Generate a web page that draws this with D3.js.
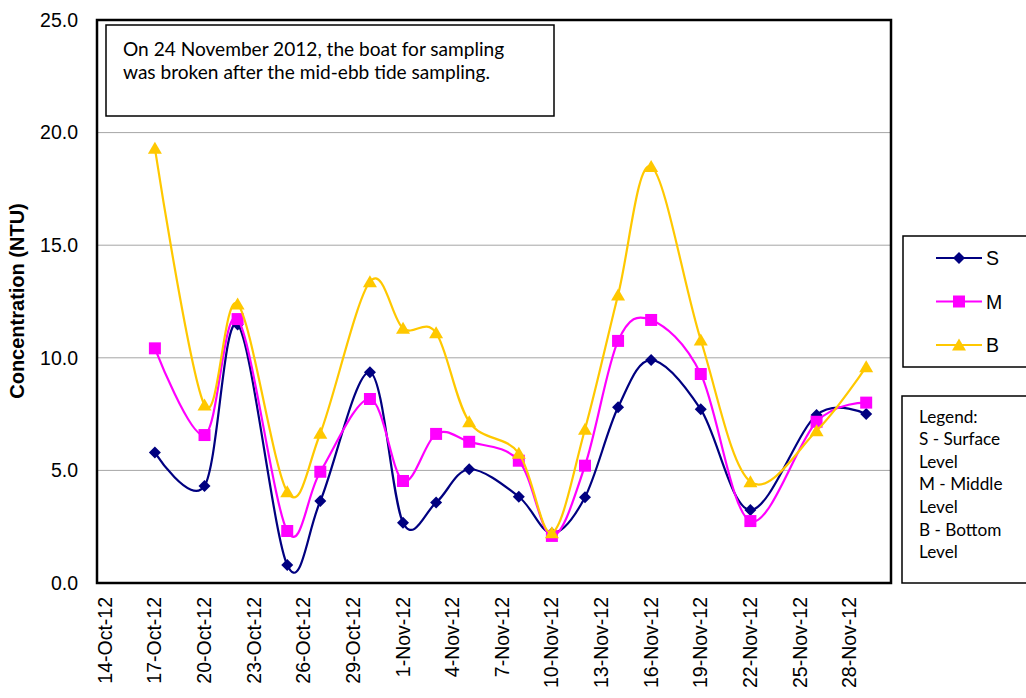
<!DOCTYPE html>
<html>
<head>
<meta charset="utf-8">
<script src="https://cdn.jsdelivr.net/npm/d3@7"></script>
<style>
  html, body { margin: 0; padding: 0; background: #fff; }
  svg { display: block; }
</style>
</head>
<body>
<svg id="chart" width="1026" height="698"></svg>
<script>
// ---- data ----
const sampleDates = ["2012-10-17","2012-10-20","2012-10-22","2012-10-25","2012-10-27","2012-10-30",
  "2012-11-01","2012-11-03","2012-11-05","2012-11-08","2012-11-10","2012-11-12","2012-11-14",
  "2012-11-16","2012-11-19","2012-11-22","2012-11-26","2012-11-29"];
const surfaceValues = [5.79, 4.31, 11.48, 0.80, 3.64, 9.36, 2.68, 3.57, 5.05, 3.83, 2.21, 3.81, 7.80, 9.90, 7.71, 3.24, 7.46, 7.50];
const middleValues  = [10.42, 6.57, 11.72, 2.31, 4.94, 8.17, 4.53, 6.62, 6.27, 5.43, 2.09, 5.21, 10.75, 11.68, 9.28, 2.75, 7.16, 8.01];
const bottomValues  = [19.30, 7.90, 12.39, 4.05, 6.65, 13.38, 11.31, 11.11, 7.16, 5.76, 2.23, 6.83, 12.79, 18.49, 10.79, 4.50, 6.76, 9.60];
const seriesNames = ["S", "M", "B"];
const seriesColors = ["#000080", "#FF00FF", "#FFC800"];
const xTickDates = ["2012-10-14","2012-10-17","2012-10-20","2012-10-23","2012-10-26","2012-10-29",
  "2012-11-01","2012-11-04","2012-11-07","2012-11-10","2012-11-13","2012-11-16","2012-11-19",
  "2012-11-22","2012-11-25","2012-11-28"];
const yTickValues = [0, 5, 10, 15, 20, 25];
const yTitle = "Concentration (NTU)";
const noteLines = ["On 24 November 2012, the boat for sampling", "was broken after the mid-ebb tide sampling."];
const legendNoteLines = ["Legend:", "S - Surface", "Level", "M - Middle", "Level", "B - Bottom", "Level"];

// ---- setup ----
const parse = d3.timeParse("%Y-%m-%d");
const fmt = d3.timeFormat("%-d-%b-%y");
const svg = d3.select("#chart");
const plot = {left: 97, right: 891, top: 20, bottom: 583};

const xMin = d3.timeHour.offset(parse("2012-10-14"), -12);
const xMax = d3.timeHour.offset(parse("2012-11-30"), 12);
const x = d3.scaleTime().domain([xMin, xMax]).range([plot.left, plot.right]);
const y = d3.scaleLinear().domain([0, 25]).range([plot.bottom, plot.top]);

// gridlines
svg.append("g").selectAll("line").data(yTickValues.filter(v => v > 0 && v < 25)).join("line")
  .attr("x1", plot.left).attr("x2", plot.right)
  .attr("y1", d => y(d)).attr("y2", d => y(d))
  .attr("stroke", "#A6A6A6").attr("stroke-width", 1);

// y axis labels
const yAxis = d3.axisLeft(y).tickValues(yTickValues).tickFormat(d3.format(".1f")).tickSize(0).tickPadding(19);
const yg = svg.append("g").attr("transform", `translate(${plot.left},0)`).call(yAxis);
yg.select(".domain").remove();
yg.selectAll("text").attr("font-family", "Liberation Sans, Arial, sans-serif").attr("font-size", 19.5).attr("fill", "#000");

// x axis labels
const xAxis = d3.axisBottom(x).tickValues(xTickDates.map(parse)).tickFormat(fmt).tickSize(0);
const xg = svg.append("g").attr("transform", `translate(0,${plot.bottom})`).call(xAxis);
xg.select(".domain").remove();
xg.selectAll("text")
  .attr("font-family", "Liberation Sans, Arial, sans-serif").attr("font-size", 19.5).attr("fill", "#000")
  .attr("text-anchor", "end")
  .attr("transform", "rotate(-90)")
  .attr("x", -14).attr("y", -1).attr("dy", "0.36em");

// y title
svg.append("text")
  .attr("transform", "translate(24,301) rotate(-90)")
  .attr("text-anchor", "middle")
  .attr("font-family", "Liberation Sans, Arial, sans-serif").attr("font-weight", "bold").attr("font-size", 20)
  .text(yTitle);

// series
const seriesData = [surfaceValues, middleValues, bottomValues].map((vals, i) => ({
  name: seriesNames[i], color: seriesColors[i],
  points: vals.map((v, j) => ({date: parse(sampleDates[j]), value: v}))
}));
const markerPath = {
  S: "M0,-6L6,0L0,6L-6,0Z",
  M: "M-6,-6H6V6H-6Z",
  B: "M0,-6.5L7,5.5L-7,5.5Z"
};
const line = d3.line().x(d => x(d.date)).y(d => y(d.value)).curve(d3.curveCardinal.tension(0));

seriesData.forEach(s => {
  const g = svg.append("g");
  g.append("path").attr("d", line(s.points)).attr("fill", "none").attr("stroke", s.color).attr("stroke-width", 2.2);
  g.selectAll("path.m").data(s.points).join("path").attr("class", "m")
    .attr("d", markerPath[s.name])
    .attr("transform", d => `translate(${x(d.date)},${y(d.value)})`)
    .attr("fill", s.color);
});

// plot frame
svg.append("rect").attr("x", plot.left).attr("y", plot.top)
  .attr("width", plot.right - plot.left).attr("height", plot.bottom - plot.top)
  .attr("fill", "none").attr("stroke", "#000").attr("stroke-width", 2.5);

// note text box
svg.append("rect").attr("x", 106).attr("y", 25).attr("width", 448).attr("height", 91)
  .attr("fill", "#fff").attr("stroke", "#000").attr("stroke-width", 1.5);
svg.append("g").selectAll("text").data(noteLines).join("text")
  .attr("x", 123).attr("y", (d, i) => 55.5 + i * 23)
  .attr("font-family", "Lato, sans-serif").attr("font-size", 19.1).attr("fill", "#000")
  .text(d => d);

// series legend box
svg.append("rect").attr("x", 903).attr("y", 236).attr("width", 140).attr("height", 131)
  .attr("fill", "#fff").attr("stroke", "#000").attr("stroke-width", 1.5);
const lg = svg.append("g").selectAll("g").data(seriesData).join("g")
  .attr("transform", (d, i) => `translate(936,${258 + i * 43.5})`);
lg.append("line").attr("x1", 0).attr("x2", 46).attr("stroke", d => d.color).attr("stroke-width", 2.2);
lg.append("path").attr("d", d => markerPath[d.name]).attr("transform", "translate(23,0)").attr("fill", d => d.color);
lg.append("text").attr("x", 50).attr("dy", "0.36em")
  .attr("font-family", "Liberation Sans, Arial, sans-serif").attr("font-size", 19.5).attr("fill", "#000")
  .text(d => d.name);

// legend note box
svg.append("rect").attr("x", 902).attr("y", 396).attr("width", 140).attr("height", 187)
  .attr("fill", "#fff").attr("stroke", "#000").attr("stroke-width", 1.5);
svg.append("g").selectAll("text").data(legendNoteLines).join("text")
  .attr("x", 919).attr("y", (d, i) => 422.5 + i * 22.6)
  .attr("font-family", "Lato, sans-serif").attr("font-size", 17.2).attr("fill", "#000")
  .text(d => d);
</script>
</body>
</html>
